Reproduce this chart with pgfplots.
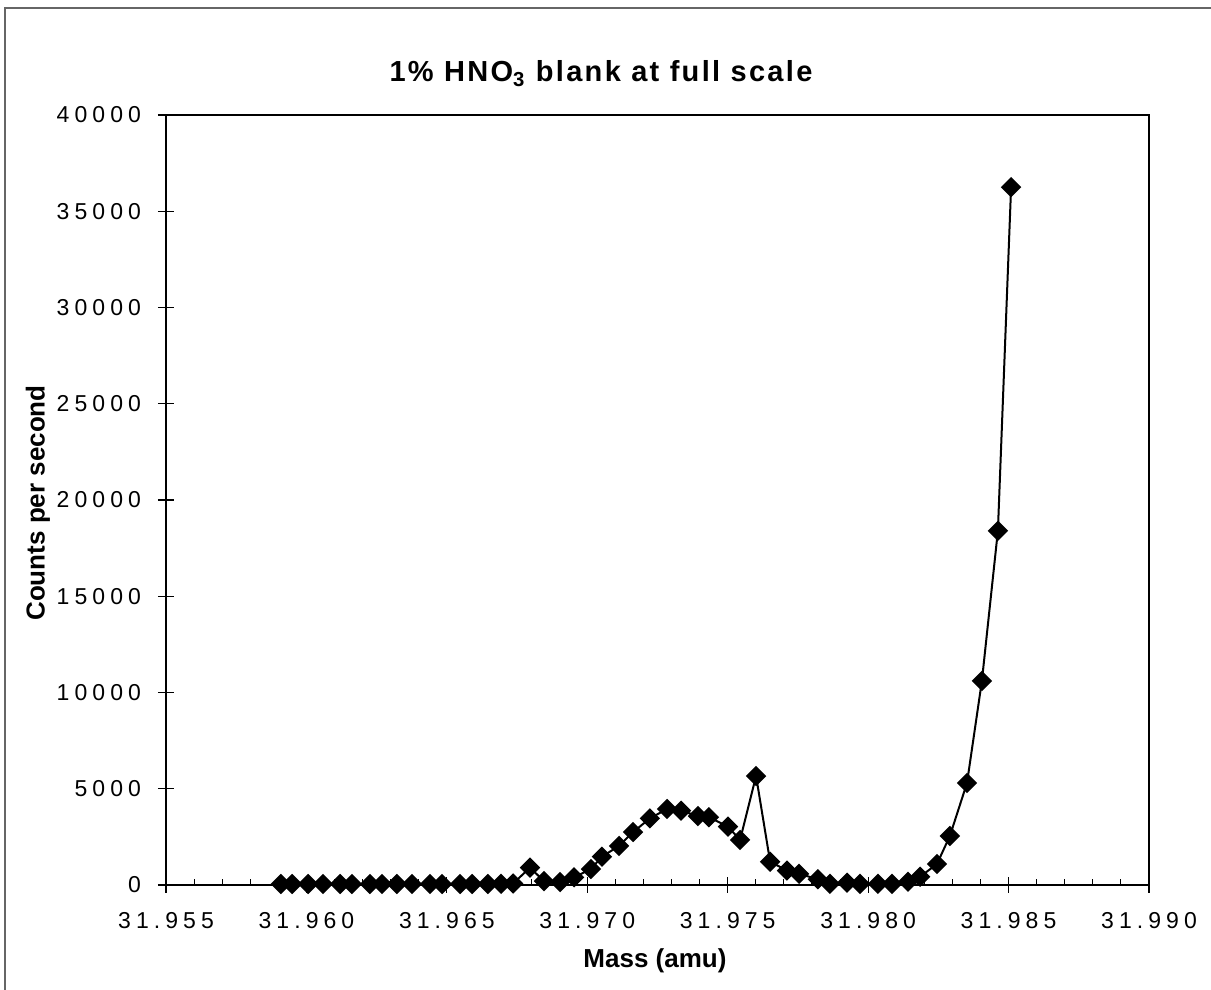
\documentclass[border=0pt]{standalone}
\usepackage{fontspec}
\setmainfont{Liberation Sans}
\newfontfamily\tickfont{Liberation Sans}[LetterSpace=22]
\newfontfamily\titlefont{Liberation Sans}[LetterSpace=8]
\usepackage{pgfplots}
\pgfplotsset{compat=1.18}
\begin{document}
\begin{tikzpicture}
\useasboundingbox (-83pt,-52.5pt) rectangle (522.5pt,442.5pt);
\draw[line width=0.7pt, black!60] (-80.5pt,-52.5pt) -- (-80.5pt,438.5pt) -- (522.5pt,438.5pt);
\begin{axis}[
  at={(0pt,0pt)}, anchor=south west,
  scale only axis,
  width=491.5pt, height=385pt,
  xmin=31.955, xmax=31.990,
  ymin=0, ymax=40000,
  xtick={31.955,31.960,31.965,31.970,31.975,31.980,31.985,31.990},
  ytick={0,5000,10000,15000,20000,25000,30000,35000,40000},
  minor x tick num=4,
  xtick pos=bottom, ytick pos=left,
  tick align=inside,
  major tick length=8pt, minor tick length=3pt,
  major x tick style={yshift=-4pt, black, line width=0.6pt},
  major y tick style={xshift=-4pt, black, line width=0.6pt},
  minor x tick style={black, line width=0.5pt},
  axis line style={black, line width=0.8pt},
  scaled x ticks=false, scaled y ticks=false,
  /pgf/number format/assume math mode=true,
  ticklabel style={font=\tickfont\fontsize{11.5}{13}\selectfont},
  xticklabel style={yshift=-10pt, /pgf/number format/fixed, /pgf/number format/fixed zerofill, /pgf/number format/precision=3},
  yticklabel style={xshift=-9pt, /pgf/number format/fixed, /pgf/number format/1000 sep={}},
]
\addplot[black, line width=1pt, mark=square*, mark size=3.1pt, mark options={rotate=45, fill=black, solid}] coordinates {
(31.95909,50) (31.95949,50) (31.96006,50) (31.96059,50) (31.96120,50)
(31.96162,50) (31.96226,50) (31.96269,50) (31.96322,50) (31.96376,50)
(31.96440,50) (31.96483,50) (31.96547,50) (31.96590,50) (31.96646,50)
(31.96693,60) (31.96736,80) (31.96796,900) (31.96846,200) (31.96903,150)
(31.96953,400) (31.97013,830) (31.97052,1470) (31.97113,2030) (31.97163,2750)
(31.97223,3460) (31.97284,3950) (31.97334,3860) (31.97394,3580) (31.97433,3520)
(31.97501,3030) (31.97544,2340) (31.97601,5660) (31.97651,1210) (31.97711,750)
(31.97754,580) (31.97821,300) (31.97864,60) (31.97925,120) (31.97971,60)
(31.98035,60) (31.98085,60) (31.98142,170) (31.98185,430) (31.98245,1090)
(31.98291,2545) (31.98352,5300) (31.98405,10600) (31.98462,18400) (31.98509,36250)
};
\end{axis}
\node[anchor=base, font=\titlefont\bfseries\fontsize{14.5}{16}\selectfont] at (217.5pt,401.5pt) {1\% HNO\textsubscript{3} blank at full scale};
\node[anchor=base, font=\bfseries\fontsize{13}{15}\selectfont] at (244.5pt,-41.5pt) {Mass (amu)};
\node[anchor=center, rotate=90, font=\bfseries\fontsize{13}{15}\selectfont] at (-64pt,191pt) {Counts per second};
\end{tikzpicture}
\end{document}
